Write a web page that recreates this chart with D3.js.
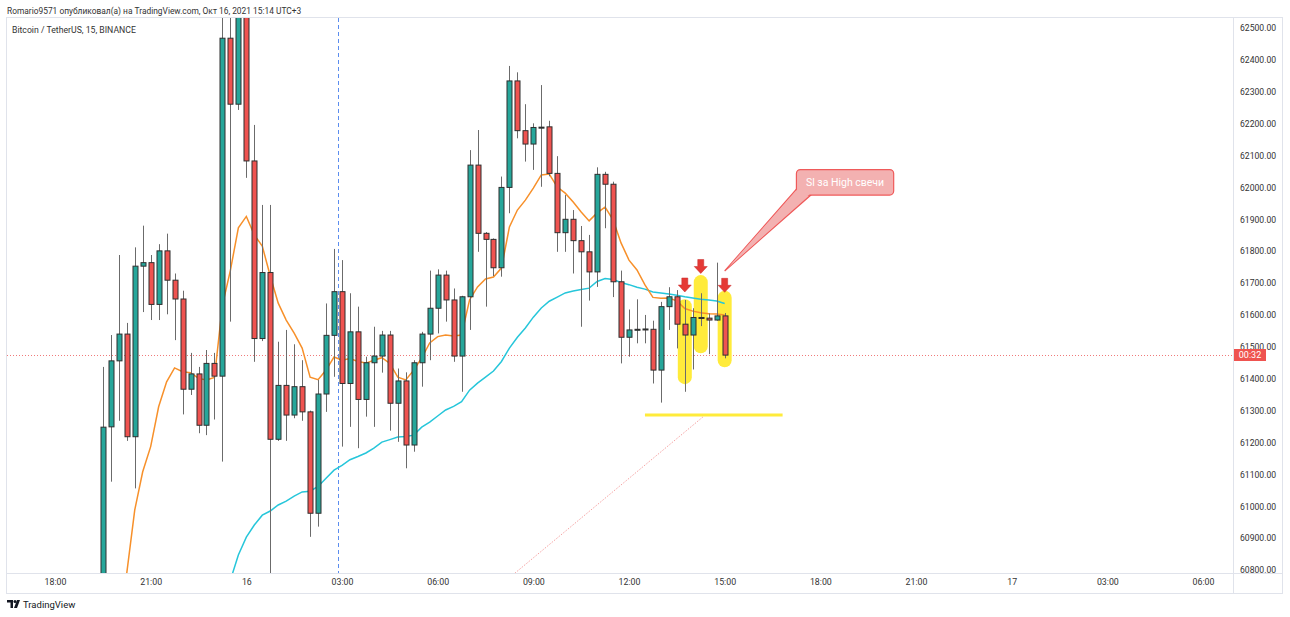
<!DOCTYPE html>
<html>
<head>
<meta charset="utf-8">
<script src="https://cdn.jsdelivr.net/npm/d3@7"></script>
<style>
  html, body { margin: 0; padding: 0; background: #fff; }
  svg text { font-family: Roboto, "Noto Sans", sans-serif; }
</style>
</head>
<body>
<div id="d3-container"></div>
<script>
/**
 * DATA
 * */
const times = [
  "2021-10-15 19:30","2021-10-15 19:45","2021-10-15 20:00","2021-10-15 20:15","2021-10-15 20:30","2021-10-15 20:45",
  "2021-10-15 21:00","2021-10-15 21:15","2021-10-15 21:30","2021-10-15 21:45","2021-10-15 22:00","2021-10-15 22:15",
  "2021-10-15 22:30","2021-10-15 22:45","2021-10-15 23:00","2021-10-15 23:15","2021-10-15 23:30","2021-10-15 23:45",
  "2021-10-16 00:00","2021-10-16 00:15","2021-10-16 00:30","2021-10-16 00:45","2021-10-16 01:00","2021-10-16 01:15",
  "2021-10-16 01:30","2021-10-16 01:45","2021-10-16 02:00","2021-10-16 02:15","2021-10-16 02:30","2021-10-16 02:45",
  "2021-10-16 03:00","2021-10-16 03:15","2021-10-16 03:30","2021-10-16 03:45","2021-10-16 04:00","2021-10-16 04:15",
  "2021-10-16 04:30","2021-10-16 04:45","2021-10-16 05:00","2021-10-16 05:15","2021-10-16 05:30","2021-10-16 05:45",
  "2021-10-16 06:00","2021-10-16 06:15","2021-10-16 06:30","2021-10-16 06:45","2021-10-16 07:00","2021-10-16 07:15",
  "2021-10-16 07:30","2021-10-16 07:45","2021-10-16 08:00","2021-10-16 08:15","2021-10-16 08:30","2021-10-16 08:45",
  "2021-10-16 09:00","2021-10-16 09:15","2021-10-16 09:30","2021-10-16 09:45","2021-10-16 10:00","2021-10-16 10:15",
  "2021-10-16 10:30","2021-10-16 10:45","2021-10-16 11:00","2021-10-16 11:15","2021-10-16 11:30","2021-10-16 11:45",
  "2021-10-16 12:00","2021-10-16 12:15","2021-10-16 12:30","2021-10-16 12:45","2021-10-16 13:00","2021-10-16 13:15",
  "2021-10-16 13:30","2021-10-16 13:45","2021-10-16 14:00","2021-10-16 14:15","2021-10-16 14:30","2021-10-16 14:45",
  "2021-10-16 15:00"
];

const opens = [
  60700,61249,61456,61540,61218,61753,61764,61633,61801,61709,61650,61367,61415,61254,61448,61408,62468,62261,
  62560,62083,61526,61733,61210,61379,61286,61375,61296,60978,61352,61536,61673,61385,61547,61335,61450,61471,
  61537,61323,61393,61192,61450,61540,61621,61725,61647,61471,61657,62070,61856,61837,61748,62000,62334,62178,
  62136,62188,62190,62044,61858,61900,61833,61798,61735,62041,62010,61704,61530,61553,61555,61555,61427,61626,
  61657,61571,61537,61592,61590,61584,61597
];
const highs = [
  61437,61537,61788,61575,61812,61880,61788,61822,61855,61730,61676,61481,61437,61490,61481,62600,62600,62650,
  62640,62196,61945,61945,61516,61553,61508,61458,61300,61396,61636,61807,61772,61668,61626,61469,61563,61550,
  61550,61432,61420,61458,61547,61739,61743,61739,61683,61660,62117,62180,61860,61840,62034,62381,62361,62261,
  62201,62321,62209,62098,61976,61929,61879,61851,62063,62049,62018,61739,61617,61649,61600,61582,61641,61687,
  61678,61647,61621,61668,61605,61764,61606
];
const lows = [
  60650,61077,61268,61205,61056,61609,61584,61584,61602,61521,61288,61349,61229,61223,61272,61140,61579,62243,
  62030,61453,61518,60780,61205,61205,61276,61268,60904,60936,61296,61406,61187,61249,61182,61281,61249,61419,
  61237,61202,61119,61171,61375,61458,61542,61579,61453,61359,61553,61798,61626,61722,61720,61919,62154,62081,
  62055,62002,62035,61798,61798,61730,61563,61645,61688,61872,61656,61448,61469,61511,61511,61385,61325,61553,
  61495,61359,61429,61565,61477,61582,61464
];
const closes = [
  61248,61456,61540,61218,61753,61764,61633,61801,61709,61650,61367,61415,61254,61448,61408,62468,62261,62560,
  62083,61526,61733,61210,61379,61286,61375,61296,60978,61352,61536,61673,61385,61547,61335,61450,61471,61537,
  61323,61393,61192,61450,61540,61621,61725,61647,61471,61657,62070,61856,61837,61748,62000,62334,62178,62136,
  62188,62189,62044,61858,61900,61833,61798,61735,62041,62010,61704,61530,61553,61555,61556,61427,61626,61657,
  61571,61537,61592,61591,61584,61597,61474
];

// fast moving average (orange), null where not drawn
const maFast = [
  null,null,60550,60790,60988,61108,61187,61312,61390,61434,61422,61419,61401,61396,61404,61630,61740,61873,
  61909,61851,61816,61722,61637,61584,61543,61496,61405,61397,61427,61468,61458,61463,61454,61449,61458,61466,
  61448,61405,61396,61427,61465,61512,61532,61537,61534,61537,61647,61688,61713,61719,61747,61876,61929,61960,
  61998,62039,62042,62001,61982,61954,61923,61895,61920,61938,61898,61826,61772,61741,61694,61655,61652,61653,
  61644,61620,61612,61607,61604,61603,61600
];
// slow moving average (cyan)
const maSlow = [
  null,null,null,null,null,null,null,null,null,null,null,null,null,null,null,null,60768,60847,
  60903,60941,60972,60985,61004,61016,61032,61045,61047,61062,61088,61113,61128,61146,61156,61167,61182,61201,
  61209,61217,61219,61223,61248,61264,61283,61302,61313,61328,61364,61386,61405,61424,61454,61496,61530,61559,
  61593,61622,61643,61656,61669,61675,61680,61684,61705,61714,61711,61702,61695,61687,61681,61672,61669,61666,
  61662,61657,61653,61649,61647,61644,61636
];

const priceTicks = d3.range(60800, 62501, 100);
const timeTicks = [
  "2021-10-15 18:00","2021-10-15 21:00","2021-10-16 00:00","2021-10-16 03:00","2021-10-16 06:00",
  "2021-10-16 09:00","2021-10-16 12:00","2021-10-16 15:00","2021-10-16 18:00","2021-10-16 21:00",
  "2021-10-17 00:00","2021-10-17 03:00","2021-10-17 06:00"
];

// drawings on the chart
const highlightIdx = [73, 75, 78];
const highlightTop = [61649, 61725, 61676];
const highlightBottom = [61383, 61480, 61436];
const arrowTip = [61672, 61730, 61671];
const slLine = { from: "2021-10-16 12:30", to: "2021-10-16 16:49", price: 61286 };
const trendLine = { from: "2021-10-16 14:19", p0: 61280, to: "2021-10-16 08:00", p1: 60755 };
const vLineTime = "2021-10-16 02:53";
const callout = { text: "Sl за High свечи", from: "2021-10-16 17:15", to: "2021-10-16 20:18",
  top: 62056, bottom: 61976, tipTime: "2021-10-16 15:00", tipPrice: 61738 };
const countdown = "00:32";

/**
 * SETUP
 * */
const width = 1290, height = 617;
const plot = { left: 7, right: 1233, top: 18, bottom: 573 };
const parse = d3.timeParse("%Y-%m-%d %H:%M");
const t = times.map(parse);

const upColor = "#26a69a", downColor = "#ef5350";

const svg = d3.select("#d3-container")
  .append("svg")
  .attr("width", width)
  .attr("height", height);

const x = d3.scaleTime()
  .domain([parse("2021-10-15 18:00"), parse("2021-10-17 06:00")])
  .range([55, 1203]);
const y = d3.scaleLinear().domain([60800, 62500]).range([570, 28]);

// header
svg.append("text")
  .attr("x", 7).attr("y", 14)
  .attr("font-size", 8.4).attr("fill", "#333")
  .text("Romario9571 опубликовал(а) на TradingView.com, Окт 16, 2021 15:14 UTC+3");

// frame
svg.append("rect")
  .attr("x", 6.5).attr("y", 17.5)
  .attr("width", 1276).attr("height", 576)
  .attr("fill", "none").attr("stroke", "#e0e3eb");
svg.append("line")
  .attr("x1", 6.5).attr("x2", 1282.5).attr("y1", 573.5).attr("y2", 573.5)
  .attr("stroke", "#e0e3eb");
svg.append("line")
  .attr("x1", 1233.5).attr("x2", 1233.5).attr("y1", 17.5).attr("y2", 593.5)
  .attr("stroke", "#e0e3eb");

svg.append("defs").append("clipPath").attr("id", "clip")
  .append("rect")
  .attr("x", plot.left).attr("y", plot.top)
  .attr("width", plot.right - plot.left).attr("height", plot.bottom - plot.top);

const g = svg.append("g").attr("clip-path", "url(#clip)");

// current price line
const lastClose = closes[closes.length - 1];
g.append("line")
  .attr("x1", plot.left).attr("x2", plot.right)
  .attr("y1", Math.round(y(lastClose)) + 0.5).attr("y2", Math.round(y(lastClose)) + 0.5)
  .attr("stroke", "#f07a7a")
  .attr("stroke-dasharray", "1,2");

// vertical dashed line
g.append("line")
  .attr("x1", Math.round(x(parse(vLineTime))) + 0.5)
  .attr("x2", Math.round(x(parse(vLineTime))) + 0.5)
  .attr("y1", plot.top).attr("y2", plot.bottom)
  .attr("stroke", "#5b8def").attr("stroke-dasharray", "4,3");

// trend line (pale)
g.append("line")
  .attr("x1", x(parse(trendLine.from))).attr("y1", y(trendLine.p0))
  .attr("x2", x(parse(trendLine.to))).attr("y2", y(trendLine.p1))
  .attr("stroke", "#f28b8b").attr("stroke-opacity", 0.8)
  .attr("stroke-dasharray", "1.5,1.5");

// yellow highlights
g.selectAll(".hl")
  .data(highlightIdx)
  .join("rect")
  .attr("class", "hl")
  .attr("x", d => x(t[d]) - 7)
  .attr("width", 14)
  .attr("y", (d, i) => y(highlightTop[i]))
  .attr("height", (d, i) => y(highlightBottom[i]) - y(highlightTop[i]))
  .attr("rx", 7)
  .attr("fill", "#ffeb3b");

// yellow SL line
g.append("line")
  .attr("x1", x(parse(slLine.from))).attr("x2", x(parse(slLine.to)))
  .attr("y1", y(slLine.price)).attr("y2", y(slLine.price))
  .attr("stroke", "#ffeb3b").attr("stroke-width", 3);

// moving averages
const lineGen = arr => d3.line()
  .defined(d => d != null)
  .x((d, i) => x(t[i]))
  .y(d => y(d))(arr);

g.append("path")
  .attr("d", lineGen(maSlow))
  .attr("fill", "none").attr("stroke", "#26c6da").attr("stroke-width", 1.5);
g.append("path")
  .attr("d", lineGen(maFast))
  .attr("fill", "none").attr("stroke", "#f7902a").attr("stroke-width", 1.5);

// candles
const candles = g.selectAll(".candle")
  .data(t)
  .join("g")
  .attr("class", "candle")
  .attr("transform", d => `translate(${Math.round(x(d)) + 0.5},0)`);

candles.append("line")
  .attr("y1", (d, i) => y(highs[i]))
  .attr("y2", (d, i) => y(lows[i]))
  .attr("stroke", "#6b6b6b");

candles.append("rect")
  .attr("x", -2.5)
  .attr("width", 5)
  .attr("y", (d, i) => y(Math.max(opens[i], closes[i])))
  .attr("height", (d, i) => Math.max(1, Math.abs(y(opens[i]) - y(closes[i]))))
  .attr("fill", (d, i) => closes[i] >= opens[i] ? upColor : downColor)
  .attr("stroke", "#2f2f2f")
  .attr("stroke-width", 1);

// arrows above the highlights
g.selectAll(".arrow")
  .data(highlightIdx)
  .join("path")
  .attr("class", "arrow")
  .attr("d", (d, i) => {
    const cx = x(t[d]), ty = y(arrowTip[i]);
    return `M${cx - 3},${ty - 14} L${cx + 3},${ty - 14} L${cx + 3},${ty - 7} L${cx + 6.5},${ty - 7}
            L${cx},${ty} L${cx - 6.5},${ty - 7} L${cx - 3},${ty - 7} Z`;
  })
  .attr("fill", "#e53935")
  .attr("stroke", "#c62828").attr("stroke-width", 0.5);

// callout
const bx0 = x(parse(callout.from)), bx1 = x(parse(callout.to));
const by0 = y(callout.top), by1 = y(callout.bottom);
const tipX = x(parse(callout.tipTime)), tipY = y(callout.tipPrice);
const wedge = `M${bx0 + 1},${by1 - 7} L${bx0 + 15},${by1 - 0.5} L${tipX},${tipY} Z`;
const cg = g.append("g");
cg.append("path").attr("d", wedge)
  .attr("fill", "#f3b1b1").attr("stroke", "#ef5a5a").attr("stroke-width", 1.2);
cg.append("rect")
  .attr("x", bx0).attr("y", by0)
  .attr("width", bx1 - bx0).attr("height", by1 - by0)
  .attr("rx", 4)
  .attr("fill", "#f3b1b1").attr("stroke", "#ef5a5a").attr("stroke-width", 1.2);
cg.append("path")
  .attr("d", `M${bx0 + 2},${by1 - 7} L${bx0 + 14},${by1 - 1.5} L${tipX + 3},${tipY - 3} Z`)
  .attr("fill", "#f3b1b1");
cg.append("text")
  .attr("x", (bx0 + bx1) / 2).attr("y", (by0 + by1) / 2)
  .attr("dy", "0.35em")
  .attr("text-anchor", "middle")
  .attr("font-size", 10.5)
  .attr("fill", "#fff")
  .text(callout.text);

// title
svg.append("text")
  .attr("x", 12).attr("y", 33)
  .attr("font-size", 8.7).attr("fill", "#333")
  .text("Bitcoin / TetherUS, 15, BINANCE");

// price axis
const yAxis = svg.append("g")
  .attr("transform", `translate(${plot.right},0)`)
  .call(d3.axisRight(y).tickValues(priceTicks).tickFormat(d3.format(".2f")).tickSize(0).tickPadding(7));
yAxis.select(".domain").remove();
yAxis.selectAll("text").attr("font-size", 8.6).attr("fill", "#333").attr("font-family", "Roboto, sans-serif");

// time axis
const fmtTime = d => d.getHours() === 0 ? d3.timeFormat("%-d")(d) : d3.timeFormat("%H:%M")(d);
const xAxis = svg.append("g")
  .attr("transform", `translate(0,${plot.bottom})`)
  .call(d3.axisBottom(x).tickValues(timeTicks.map(parse)).tickFormat(fmtTime).tickSize(0).tickPadding(6));
xAxis.select(".domain").remove();
xAxis.selectAll("text").attr("font-size", 8.8).attr("fill", "#333").attr("font-family", "Roboto, sans-serif");

// countdown label on price axis
const ly = Math.round(y(lastClose));
svg.append("rect")
  .attr("x", 1234).attr("y", ly - 6)
  .attr("width", 32).attr("height", 12)
  .attr("fill", "#ef5350");
svg.append("text")
  .attr("x", 1250).attr("y", ly).attr("dy", "0.35em")
  .attr("text-anchor", "middle")
  .attr("font-size", 9).attr("fill", "#fff")
  .text(countdown);

// TradingView footer
const logo = svg.append("g").attr("transform", "translate(7,600)").attr("fill", "#131722");
logo.append("path").attr("d", "M0,0 H6 V8 H3.5 V2.5 H0 Z");
logo.append("circle").attr("cx", 8).attr("cy", 1.5).attr("r", 1.5);
logo.append("path").attr("d", "M10,0 H13 L10,8 H7 Z");
svg.append("text")
  .attr("x", 23).attr("y", 608)
  .attr("font-size", 9.5).attr("fill", "#131722")
  .text("TradingView");
</script>
</body>
</html>
